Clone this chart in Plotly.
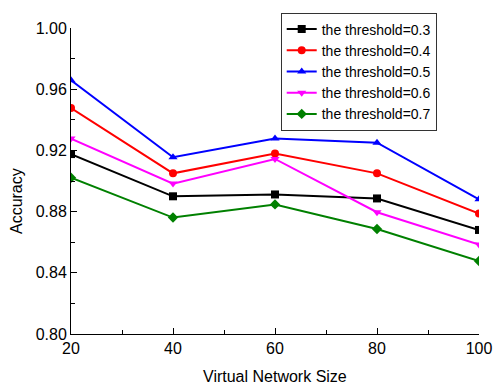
import plotly.graph_objects as go

sizes = [20, 40, 60, 80, 100]
acc_03 = [0.9176, 0.8900, 0.8912, 0.8886, 0.8680]
acc_04 = [0.9477, 0.9050, 0.9180, 0.9050, 0.8787]
acc_05 = [0.9658, 0.9155, 0.9277, 0.9250, 0.8880]
acc_06 = [0.9277, 0.8983, 0.9144, 0.8796, 0.8585]
acc_07 = [0.9021, 0.8761, 0.8847, 0.8686, 0.8477]

series = [
    ("the threshold=0.3", acc_03, "#000000", "square"),
    ("the threshold=0.4", acc_04, "#ff0000", "circle"),
    ("the threshold=0.5", acc_05, "#0000ff", "triangle-up"),
    ("the threshold=0.6", acc_06, "#ff00ff", "triangle-down"),
    ("the threshold=0.7", acc_07, "#008000", "diamond"),
]

fig = go.Figure()
for name, vals, color, sym in series:
    fig.add_trace(go.Scatter(
        x=sizes, y=vals, name=name, mode="lines+markers",
        line=dict(color=color, width=2),
        marker=dict(symbol=sym, size=8, color=color),
    ))

font = "Liberation Sans, Arial, sans-serif"
fig.update_layout(
    width=504, height=387,
    margin=dict(l=71, r=15, t=24, b=53),
    paper_bgcolor="white", plot_bgcolor="white",
    font=dict(family=font, size=16, color="black"),
    showlegend=True,
    legend=dict(
        x=0.514, y=1.0506, xanchor="left", yanchor="top",
        bgcolor="white", bordercolor="#333333", borderwidth=1,
        font=dict(family=font, size=14, color="black"),
        tracegroupgap=0,
    ),
    xaxis=dict(
        range=[20, 100], tick0=20, dtick=20, showgrid=False, zeroline=False,
        showline=True, linecolor="black", linewidth=1,
        ticks="inside", ticklen=6, tickcolor="black",
        minor=dict(dtick=10, ticks="inside", ticklen=4, tickcolor="black", showgrid=False),
        tickfont=dict(size=16),
    ),
    yaxis=dict(
        range=[0.80, 1.00], tick0=0.80, dtick=0.04, tickformat=".2f",
        showgrid=False, zeroline=False,
        showline=True, linecolor="black", linewidth=1,
        ticks="inside", ticklen=6, tickcolor="black",
        minor=dict(dtick=0.02, ticks="inside", ticklen=4, tickcolor="black", showgrid=False),
        tickfont=dict(size=16),
    ),
    annotations=[
        dict(text="Virtual Network Size", xref="paper", yref="paper",
             x=0.5, y=-(377 - 334) / 310, xanchor="center", yanchor="middle",
             showarrow=False, font=dict(size=16)),
        dict(text="Accuracy", xref="paper", yref="paper",
             x=-(71 - 15) / 417.7, y=(334 - 199) / 310, xanchor="center", yanchor="middle",
             textangle=-90, showarrow=False, font=dict(size=16)),
    ],
)

fig.write_html("out.html")
